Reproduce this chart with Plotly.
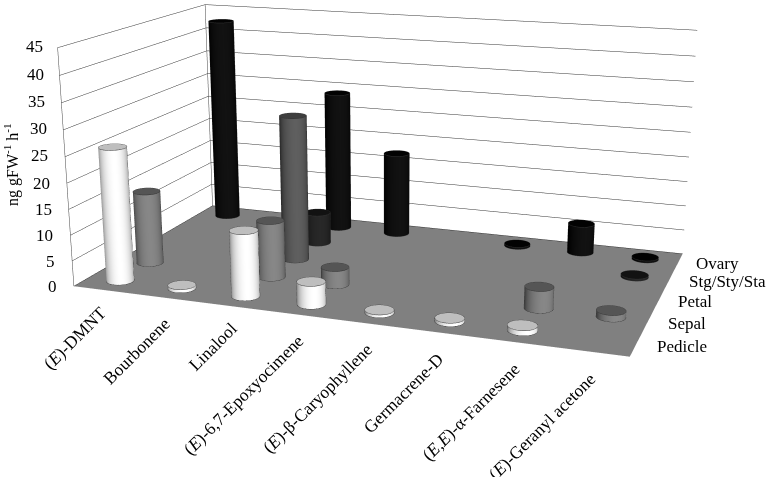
import numpy as np
import plotly.graph_objects as go

categories = ["(<i>E</i>)-DMNT", "Bourbonene", "Linalool", "(<i>E</i>)-6,7-Epoxyocimene",
              "(<i>E</i>)-β-Caryophyllene", "Germacrene-D", "(<i>E,E</i>)-α-Farnesene", "(<i>E</i>)-Geranyl acetone"]
series_names = ["Pedicle", "Sepal", "Petal", "Stg/Sty/Sta", "Ovary"]
pedicle = [26, 0.6, 12.6, 4.3, 0.5, 0.6, 0.9, 0]
sepal   = [14.5, 0, 11.2, 3.4, 0, 0, 4.1, 1.2]
petal   = [0, 0, 29, 0, 0, 0, 0, 0]
stg     = [0, 0, 6.4, 0, 0, 0, 0, 0.4]
ovary   = [42.6, 0, 29, 17.2, 0, 0.4, 6, 0.4]
y_ticks = [0, 5, 10, 15, 20, 25, 30, 35, 40, 45]
y_title = "ng gFW<sup>-1</sup> h<sup>-1</sup>"

series_values = [pedicle, sepal, petal, stg, ovary]
side_edge = [130, 65, 40, 14, 0]
side_mid  = [255, 135, 95, 40, 18]
cap_grey  = [190, 85, 62, 18, 2]

FONT = "Liberation Serif"
W, H = 768, 477
ASPECT = (0.651, 0.364, 0.28)
EYE = (0.545, -1.541, 0.406)
CENTER = (0.368, -1.046, 0.243)
FOCAL = 1425
RX, RY = 0.2, 0.22
view_az = np.arctan2(EYE[1] - CENTER[1], EYE[0] - CENTER[0])

fig = go.Figure()
GREY = [[0, "#000"], [1, "#fff"]]
th = np.linspace(0, 2 * np.pi, 49)
for j, vals in enumerate(series_values):
    lx, ly, lz = [], [], []
    for i, v in enumerate(vals):
        if v <= 0:
            continue
        cx, cy = i + 0.5, j + 0.5
        ring_x, ring_y = cx + RX * np.cos(th), cy + RY * np.sin(th)
        X = np.vstack([ring_x, ring_x, ring_x, np.full_like(th, cx)])
        Y = np.vstack([ring_y, ring_y, ring_y, np.full_like(th, cy)])
        Z = np.vstack([np.zeros_like(th), np.full_like(th, v), np.full_like(th, v), np.full_like(th, v)])
        facing = np.clip(np.cos(th - view_az - 0.25), 0, 1) ** 0.9
        shade = side_edge[j] + (side_mid[j] - side_edge[j]) * facing
        C = np.vstack([shade, shade, np.full_like(th, cap_grey[j]), np.full_like(th, cap_grey[j])])
        fig.add_trace(go.Surface(x=X, y=Y, z=Z, surfacecolor=C, cmin=0, cmax=255, colorscale=GREY,
                                 showscale=False, hoverinfo="skip",
                                 lighting=dict(ambient=1, diffuse=0, specular=0, roughness=1, fresnel=0)))
        lx += list(ring_x) + [None] + list(ring_x) + [None]
        ly += list(ring_y) + [None] + list(ring_y) + [None]
        lz += [v] * len(th) + [None] + [0] * len(th) + [None]
        for a in (view_az + np.pi / 2, view_az - np.pi / 2):
            sx, sy = cx + RX * np.cos(a), cy + RY * np.sin(a)
            lx += [sx, sx, None]; ly += [sy, sy, None]; lz += [0, v, None]
    if lx:
        fig.add_trace(go.Scatter3d(x=lx, y=ly, z=lz, mode="lines", hoverinfo="skip", showlegend=False,
                                   line=dict(color="#333", width=1)))

# wall corner edges
fig.add_trace(go.Scatter3d(x=[0, 0, None, 0, 0], y=[0, 0, None, 5, 5], z=[0, 45, None, 0, 45], mode="lines",
                           hoverinfo="skip", showlegend=False, line=dict(color="#444", width=1)))

hidden = dict(showgrid=False, zeroline=False, showticklabels=False, showline=False, ticks="",
              showspikes=False, title="", showbackground=False)
scene = dict(
    domain=dict(x=[0, 1], y=[0, 1]),
    xaxis=dict(range=[0, 8], **hidden),
    yaxis=dict(range=[0, 5], **hidden),
    zaxis=dict(range=[0, 45], tickvals=y_ticks, showticklabels=False, showgrid=True,
               gridcolor="#333", gridwidth=1, zeroline=False, showline=False, ticks="", showspikes=False,
               showbackground=True, backgroundcolor="#808080", title=""),
    aspectmode="manual", aspectratio=dict(x=ASPECT[0], y=ASPECT[1], z=ASPECT[2]),
    camera=dict(eye=dict(x=EYE[0], y=EYE[1], z=EYE[2]), center=dict(x=CENTER[0], y=CENTER[1], z=CENTER[2]),
                up=dict(x=0, y=0, z=1), projection=dict(type="perspective")),
)

cat_label_pos = [(113, 300), (177, 311), (243, 316), (310, 328), (379, 336), (450, 346), (526, 356), (603, 366)]
ser_label_pos = [(709, 346), (708, 323), (714, 301), (768, 281), (741, 263)]
tick_label_pos = [(59, 286), (57, 261), (55, 235), (54, 209), (52, 183), (50, 156), (49, 129), (47, 102), (46, 74), (45, 46)]
ann = []
for t, (px, py) in zip(categories, cat_label_pos):
    ann.append(dict(text=t, x=px / W, y=1 - py / H, xref="paper", yref="paper", xanchor="right", yanchor="top",
                    textangle=-45, showarrow=False, font=dict(family=FONT, size=17.5, color="#000")))
for t, (px, py) in zip(series_names, ser_label_pos):
    ann.append(dict(text=t, x=px / W, y=1 - py / H, xref="paper", yref="paper", xanchor="right", yanchor="middle",
                    showarrow=False, font=dict(family=FONT, size=17, color="#000")))
for t, (px, py) in zip(y_ticks, tick_label_pos):
    ann.append(dict(text=str(t), x=px / W, y=1 - py / H, xref="paper", yref="paper", xanchor="right", yanchor="middle",
                    showarrow=False, font=dict(family=FONT, size=17, color="#000")))
ann.append(dict(text=y_title, x=12 / W, y=1 - 165 / H, xref="paper", yref="paper", xanchor="center",
                yanchor="middle", textangle=-90, showarrow=False, font=dict(family=FONT, size=16, color="#000")))

fig.update_layout(width=W, height=H, margin=dict(l=0, r=0, t=0, b=0), paper_bgcolor="#fff", showlegend=False,
                  scene=scene, annotations=ann)

post = """
document.body.style.margin = '0';
var gd = document.getElementById('{plot_id}');
var s = gd._fullLayout.scene._scene;
s.glplot.fovy = 2 * Math.atan(%f / %f);
s.glplot.redraw();
""" % (H / 2, FOCAL)
fig.write_html("out.html", post_script=post, config=dict(displayModeBar=False))
